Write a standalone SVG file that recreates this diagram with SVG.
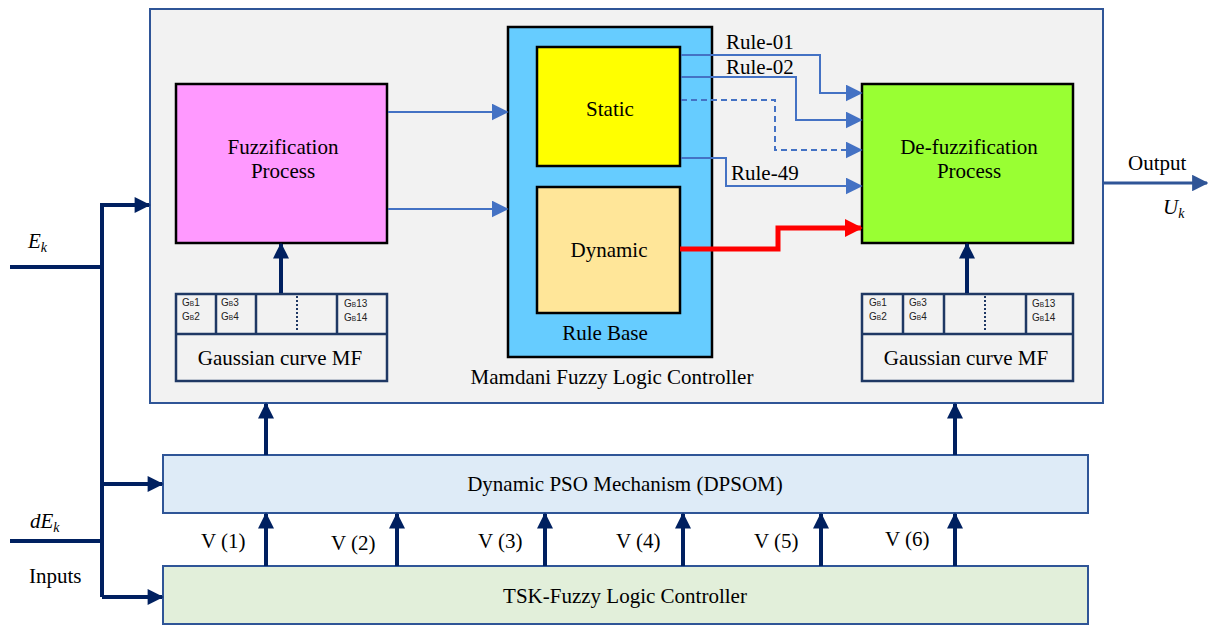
<svg xmlns="http://www.w3.org/2000/svg" width="1208" height="626" viewBox="0 0 1208 626">
<defs>
<style>
.t{font-family:"Liberation Serif","Times New Roman",serif;font-size:21px;fill:#000}
.s{font-family:"Liberation Sans",Arial,sans-serif;font-size:10px;fill:#222}
.blk{stroke:#000;stroke-width:2.5}
.nv{stroke:#002060;stroke-width:4;fill:none}
.bl{stroke:#4472C4;stroke-width:2;fill:none}
.gc{fill:#F2F2F2;stroke:#1F3864;stroke-width:2.5}
</style>
<marker id="an" viewBox="0 0 10 10" refX="9" refY="5" markerWidth="4.2" markerHeight="4" orient="auto" markerUnits="strokeWidth"><path d="M0,0L10,5L0,10z" fill="#002060"/></marker>
<marker id="ab" viewBox="0 0 10 10" refX="9" refY="5" markerWidth="8.5" markerHeight="8.5" orient="auto" markerUnits="strokeWidth"><path d="M0,0L10,5L0,10z" fill="#4472C4"/></marker>
<marker id="ar" viewBox="0 0 10 10" refX="9" refY="5" markerWidth="3.6" markerHeight="3.6" orient="auto" markerUnits="strokeWidth"><path d="M0,0L10,5L0,10z" fill="#FF0000"/></marker>
<marker id="ab3" viewBox="0 0 10 10" refX="9" refY="5" markerWidth="5.5" markerHeight="5.5" orient="auto" markerUnits="strokeWidth"><path d="M0,0L10,5L0,10z" fill="#2F5597"/></marker>
</defs>
<rect width="1208" height="626" fill="#fff"/>
<g id="mamdani">
<rect x="150" y="9" width="953" height="394" fill="#F2F2F2" stroke="#2F5597" stroke-width="2"/>
<text class="t" x="612" y="384" text-anchor="middle">Mamdani Fuzzy Logic Controller</text>
</g>
<g id="fuzzification">
<rect x="176" y="84" width="211" height="159" fill="#FF99FF" class="blk"/>
<text class="t" x="283" y="154" text-anchor="middle">Fuzzification</text>
<text class="t" x="283" y="178" text-anchor="middle">Process</text>
</g>
<g id="rulebase">
<rect x="508" y="27" width="204" height="330" fill="#66CCFF" class="blk"/>
<text class="t" x="605" y="340" text-anchor="middle">Rule Base</text>
</g>
<g id="static">
<rect x="537" y="47" width="143" height="119" fill="#FFFF00" class="blk"/>
<text class="t" x="610" y="116" text-anchor="middle">Static</text>
</g>
<g id="dynamic">
<rect x="537" y="187" width="143" height="126" fill="#FFE699" class="blk"/>
<text class="t" x="609" y="257" text-anchor="middle">Dynamic</text>
</g>
<g id="defuzzification">
<rect x="862" y="84" width="211" height="159" fill="#99FF33" class="blk"/>
<text class="t" x="969" y="154" text-anchor="middle">De-fuzzification</text>
<text class="t" x="969" y="178" text-anchor="middle">Process</text>
</g>
<g id="gauss-left">
<rect x="176" y="294" width="211" height="87" class="gc"/>
<line x1="176" y1="334" x2="387" y2="334" stroke="#1F3864" stroke-width="2.5"/>
<line x1="216" y1="294" x2="216" y2="334" stroke="#1F3864" stroke-width="2.5"/>
<line x1="256" y1="294" x2="256" y2="334" stroke="#1F3864" stroke-width="2.5"/>
<line x1="337" y1="294" x2="337" y2="334" stroke="#1F3864" stroke-width="2.5"/>
<line x1="297" y1="296" x2="297" y2="332" stroke="#1F3864" stroke-width="2" stroke-dasharray="2,2"/>
<text class="s" x="182" y="306">G<tspan font-size="6.5">B</tspan>1</text>
<text class="s" x="182" y="320">G<tspan font-size="6.5">B</tspan>2</text>
<text class="s" x="221" y="306">G<tspan font-size="6.5">B</tspan>3</text>
<text class="s" x="221" y="320">G<tspan font-size="6.5">B</tspan>4</text>
<text class="s" x="344" y="307">G<tspan font-size="6.5">B</tspan>13</text>
<text class="s" x="344" y="321">G<tspan font-size="6.5">B</tspan>14</text>
<text class="t" x="280" y="365" text-anchor="middle">Gaussian curve MF</text>
</g>
<g id="gauss-right">
<rect x="862" y="294" width="211" height="87" class="gc"/>
<line x1="862" y1="334" x2="1073" y2="334" stroke="#1F3864" stroke-width="2.5"/>
<line x1="903" y1="294" x2="903" y2="334" stroke="#1F3864" stroke-width="2.5"/>
<line x1="944" y1="294" x2="944" y2="334" stroke="#1F3864" stroke-width="2.5"/>
<line x1="1026" y1="294" x2="1026" y2="334" stroke="#1F3864" stroke-width="2.5"/>
<line x1="985" y1="296" x2="985" y2="332" stroke="#1F3864" stroke-width="2" stroke-dasharray="2,2"/>
<text class="s" x="869" y="306">G<tspan font-size="6.5">B</tspan>1</text>
<text class="s" x="869" y="320">G<tspan font-size="6.5">B</tspan>2</text>
<text class="s" x="909" y="306">G<tspan font-size="6.5">B</tspan>3</text>
<text class="s" x="909" y="320">G<tspan font-size="6.5">B</tspan>4</text>
<text class="s" x="1032" y="307">G<tspan font-size="6.5">B</tspan>13</text>
<text class="s" x="1032" y="321">G<tspan font-size="6.5">B</tspan>14</text>
<text class="t" x="966" y="365" text-anchor="middle">Gaussian curve MF</text>
</g>
<g id="dpsom">
<rect x="163" y="455" width="925" height="58" fill="#DEEBF7" stroke="#2F5597" stroke-width="2"/>
<text class="t" x="625" y="491" text-anchor="middle">Dynamic PSO Mechanism (DPSOM)</text>
</g>
<g id="tsk">
<rect x="163" y="566" width="925" height="58" fill="#E2EFDA" stroke="#2F5597" stroke-width="2"/>
<text class="t" x="625" y="603" text-anchor="middle">TSK-Fuzzy Logic Controller</text>
</g>
<g id="labels">
<text class="t" x="28" y="248" font-style="italic">E<tspan font-size="14" dy="4">k</tspan></text>
<text class="t" x="30" y="528" font-style="italic">dE<tspan font-size="14" dy="4">k</tspan></text>
<text class="t" x="29" y="583">Inputs</text>
<text class="t" x="1128" y="170">Output</text>
<text class="t" x="1163" y="214" font-style="italic">U<tspan font-size="14" dy="4">k</tspan></text>
<text class="t" x="726" y="49">Rule-01</text>
<text class="t" x="726" y="74">Rule-02</text>
<text class="t" x="731" y="180">Rule-49</text>
<text class="t" x="201" y="548">V (1)</text>
<text class="t" x="331" y="550">V (2)</text>
<text class="t" x="478" y="548">V (3)</text>
<text class="t" x="616" y="548">V (4)</text>
<text class="t" x="754" y="548">V (5)</text>
<text class="t" x="885" y="546">V (6)</text>
</g>
<g id="connectors">
<polyline class="nv" points="10,267 102,267"/>
<polyline class="nv" points="10,541 102,541"/>
<polyline class="nv" points="102,597 102,205 149,205" marker-end="url(#an)"/>
<polyline class="nv" points="102,484 162,484" marker-end="url(#an)"/>
<polyline class="nv" points="102,597 162,597" marker-end="url(#an)"/>
<line class="nv" x1="266" y1="455" x2="266" y2="404" marker-end="url(#an)"/>
<line class="nv" x1="955" y1="455" x2="955" y2="404" marker-end="url(#an)"/>
<line class="nv" x1="266" y1="566" x2="266" y2="514" marker-end="url(#an)"/>
<line class="nv" x1="397" y1="566" x2="397" y2="514" marker-end="url(#an)"/>
<line class="nv" x1="545" y1="566" x2="545" y2="514" marker-end="url(#an)"/>
<line class="nv" x1="683" y1="566" x2="683" y2="514" marker-end="url(#an)"/>
<line class="nv" x1="821" y1="566" x2="821" y2="514" marker-end="url(#an)"/>
<line class="nv" x1="955" y1="566" x2="955" y2="514" marker-end="url(#an)"/>
<line class="nv" x1="281" y1="293" x2="281" y2="244" marker-end="url(#an)"/>
<line class="nv" x1="967" y1="293" x2="967" y2="244" marker-end="url(#an)"/>
<line x1="1103" y1="183" x2="1207" y2="183" stroke="#2F5597" stroke-width="3" marker-end="url(#ab3)"/>
<polyline class="bl" points="388,112 507,112" marker-end="url(#ab)"/>
<polyline class="bl" points="388,209 507,209" marker-end="url(#ab)"/>
<polyline class="bl" points="681,55 820,55 820,93 861,93" marker-end="url(#ab)"/>
<polyline class="bl" points="681,77 796,77 796,120 861,120" marker-end="url(#ab)"/>
<polyline class="bl" points="681,100 775,100 775,150 861,150" stroke-dasharray="6,4" marker-end="url(#ab)"/>
<polyline class="bl" points="681,158 726,158 726,186 861,186" marker-end="url(#ab)"/>
<polyline points="680,249 778,249 778,228 861,228" fill="none" stroke="#FF0000" stroke-width="5" marker-end="url(#ar)"/>
</g>
</svg>
